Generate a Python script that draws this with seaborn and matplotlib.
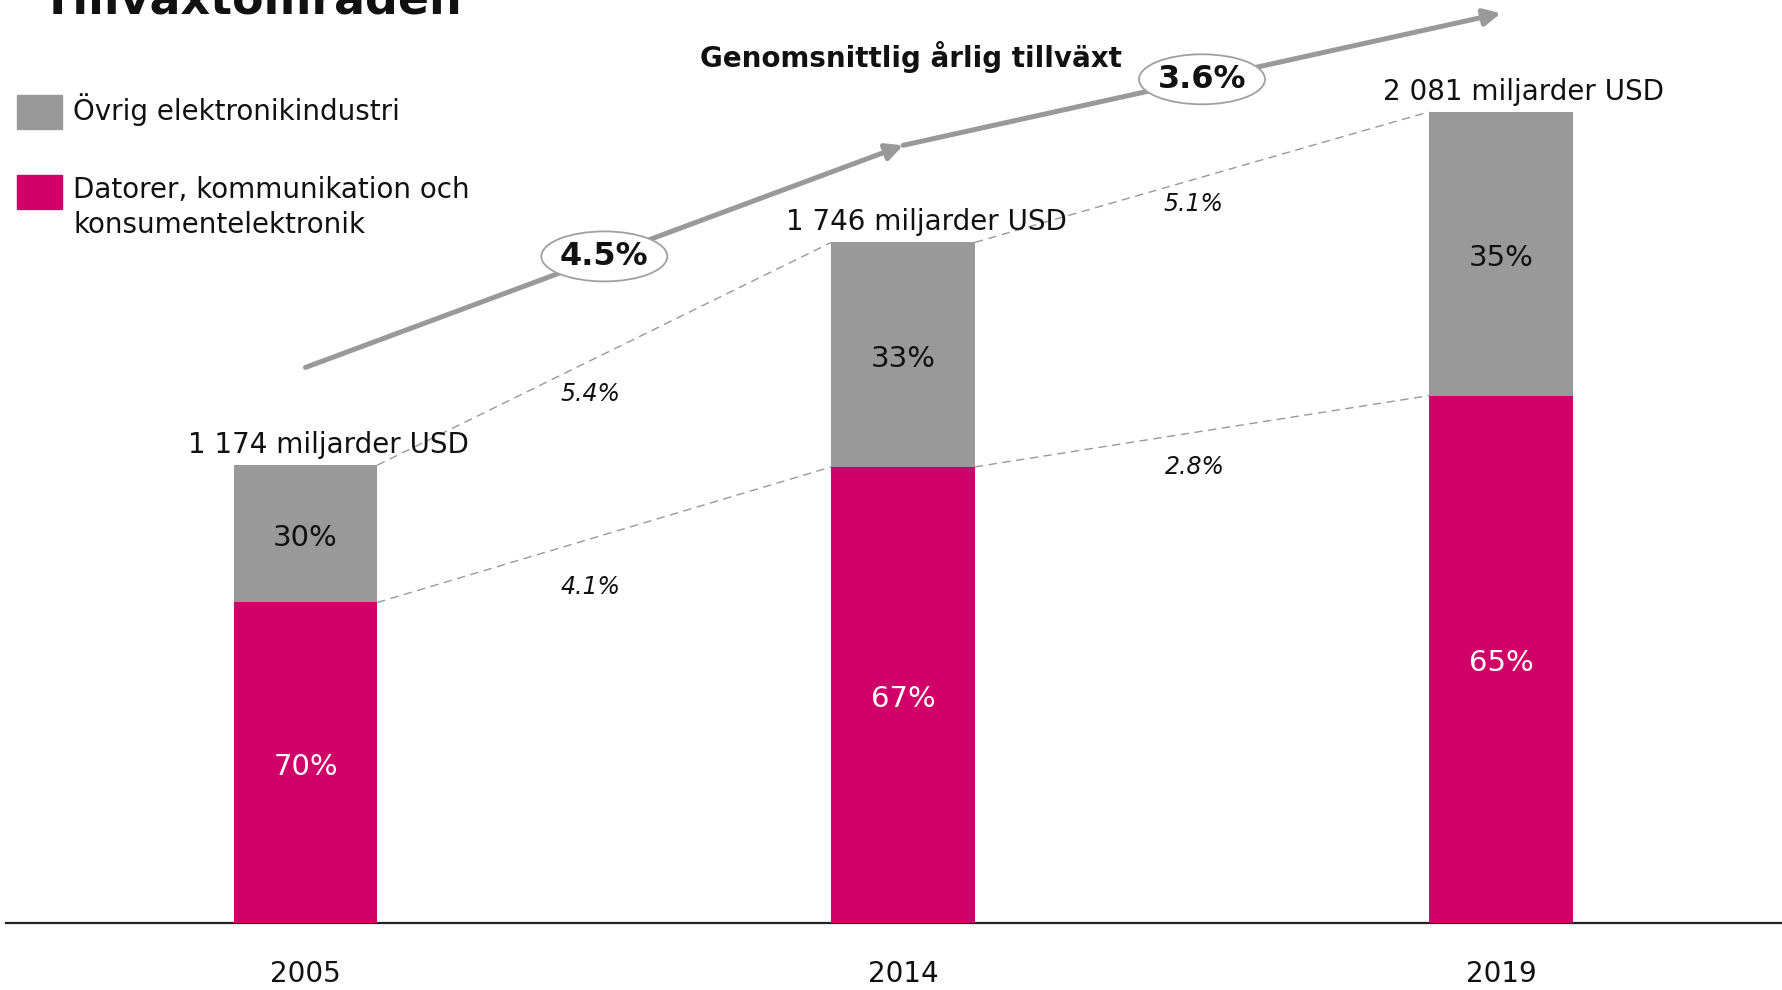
import matplotlib
matplotlib.use("Agg")
import matplotlib.pyplot as plt
import pandas as pd
import seaborn as sns
from matplotlib.patches import Ellipse, FancyArrowPatch, Rectangle, ArrowStyle

# ---------------- data ----------------
years = ["2005", "2014", "2019"]
totals = [1174, 1746, 2081]                 # miljarder USD
pink_share = [70, 67, 65]                   # Datorer, kommunikation och konsumentelektronik
gray_share = [30, 33, 35]                   # Övrig elektronikindustri
total_cagr = ["5.4%", "5.1%"]
pink_cagr = ["4.1%", "2.8%"]
avg_growth = ["4.5%", "3.6%"]
series_names = ["Övrig elektronikindustri",
                "Datorer, kommunikation och\nkonsumentelektronik"]
title = "Tillväxtområden"
growth_title = "Genomsnittlig årlig tillväxt"

GRAY = "#999999"
PINK = "#D10068"

pink_vals = [t * s / 100 for t, s in zip(totals, pink_share)]
total_labels = [f"{t:,}".replace(",", " ") + " miljarder USD" for t in totals]

sns.set_style("white")
plt.rcParams["font.family"] = ["DejaVu Sans"]

W, H = 1783, 990
fig = plt.figure(figsize=(W / 100, H / 100), dpi=100)
base_px = 922.7
ax = fig.add_axes([6 / W, (H - base_px) / H, 1 - 6 / W, base_px / H])

df = pd.DataFrame({"year": years, "total": totals, "pink": pink_vals})
bw = 0.24
sns.barplot(data=df, x="year", y="total", color=GRAY, saturation=1,
            width=bw, linewidth=0, ax=ax, zorder=2)
sns.barplot(data=df, x="year", y="pink", color=PINK, saturation=1,
            width=bw, linewidth=0, ax=ax, zorder=3)

ax.set_xlim(-0.501, 2.472)
ax.set_ylim(0, 2368)
for s in ["left", "top", "right"]:
    ax.spines[s].set_visible(False)
ax.spines["bottom"].set_color("#222222")
ax.spines["bottom"].set_linewidth(1.6)
ax.set_yticks([])
ax.set_xlabel("")
ax.set_ylabel("")
ax.tick_params(axis="x", length=0, pad=27, labelsize=20, labelcolor="#111111")

# percentages inside bars
for i in range(len(years)):
    gray_h = totals[i] - pink_vals[i]
    ax.annotate(f"{gray_share[i]}%", xy=(i, pink_vals[i] + gray_h / 2),
                xytext=(0, -4), textcoords="offset pixels", ha="center",
                va="center", fontsize=21, color="#111111", zorder=4)
    ax.annotate(f"{pink_share[i]}%", xy=(i, pink_vals[i] / 2),
                xytext=(0, -4), textcoords="offset pixels", ha="center",
                va="center", fontsize=21, color="white", zorder=4)
    ax.annotate(total_labels[i], xy=(i, totals[i]), xytext=(23, 12),
                textcoords="offset pixels", ha="center", va="baseline",
                fontsize=20, color="#111111", zorder=4)

# dashed connectors and CAGR labels
tot_off = [(-14, -40), (-8, -27)]
pink_off = [(-14, -52), (-7, -36)]
for i in range(len(years) - 1):
    xa, xb = i + bw / 2, i + 1 - bw / 2
    ax.plot([xa, xb], [totals[i], totals[i + 1]], ls=(0, (6, 4)),
            color=GRAY, lw=1.0, zorder=1)
    ax.plot([xa, xb], [pink_vals[i], pink_vals[i + 1]], ls=(0, (6, 4)),
            color=GRAY, lw=1.0, zorder=1)
    ax.annotate(total_cagr[i], xy=((xa + xb) / 2, (totals[i] + totals[i + 1]) / 2),
                xytext=tot_off[i], textcoords="offset pixels", ha="center",
                va="center", fontsize=17, style="italic", color="#111111")
    ax.annotate(pink_cagr[i], xy=((xa + xb) / 2, (pink_vals[i] + pink_vals[i + 1]) / 2),
                xytext=pink_off[i], textcoords="offset pixels", ha="center",
                va="center", fontsize=17, style="italic", color="#111111")

# growth arrows
arrow_y = [1425, 1995, 2334]
px_per_x = 597.75
px_per_y = base_px / 2368
for i in range(2):
    p0 = (i, arrow_y[i])
    p1 = (i + 1, arrow_y[i + 1])
    arr = FancyArrowPatch(p0, p1,
                          arrowstyle=ArrowStyle("-|>", head_length=0.5, head_width=0.25),
                          mutation_scale=20, color=GRAY, lw=3.6,
                          shrinkA=0, shrinkB=0, clip_on=False, zorder=5)
    ax.add_patch(arr)
    cx, cy = (p0[0] + p1[0]) / 2, (p0[1] + p1[1]) / 2
    ax.add_patch(Ellipse((cx, cy), width=126 / px_per_x, height=50 / px_per_y,
                         facecolor="white", edgecolor="#A0A0A0", lw=1.3,
                         zorder=6, clip_on=False))
    ax.text(cx, cy, avg_growth[i], ha="center", va="center", fontsize=23,
            fontweight="bold", color="#111111", zorder=7)

# titles (the main title is cut at the top edge, as in the original slide)
fig.text(42 / W, 1 - 13.3 / H, title, fontsize=33, fontweight="bold",
         va="baseline", ha="left", color="#111111")
fig.text(911 / W, 1 - 66.7 / H, growth_title, fontsize=20, fontweight="bold",
         va="baseline", ha="center", color="#111111")

# legend
fig.patches.append(Rectangle((17 / W, 1 - 128.7 / H), 45 / W, 33.7 / H,
                             transform=fig.transFigure, color=GRAY))
fig.patches.append(Rectangle((17 / W, 1 - 209 / H), 45 / W, 34 / H,
                             transform=fig.transFigure, color=PINK))
fig.text(73 / W, 1 - 120 / H, series_names[0], fontsize=20, va="baseline",
         color="#111111")
lines = series_names[1].split("\n")
fig.text(73 / W, 1 - 198 / H, lines[0], fontsize=20, va="baseline", color="#111111")
fig.text(73 / W, 1 - 233 / H, lines[1], fontsize=20, va="baseline", color="#111111")

fig.savefig("out.png", dpi=100)
